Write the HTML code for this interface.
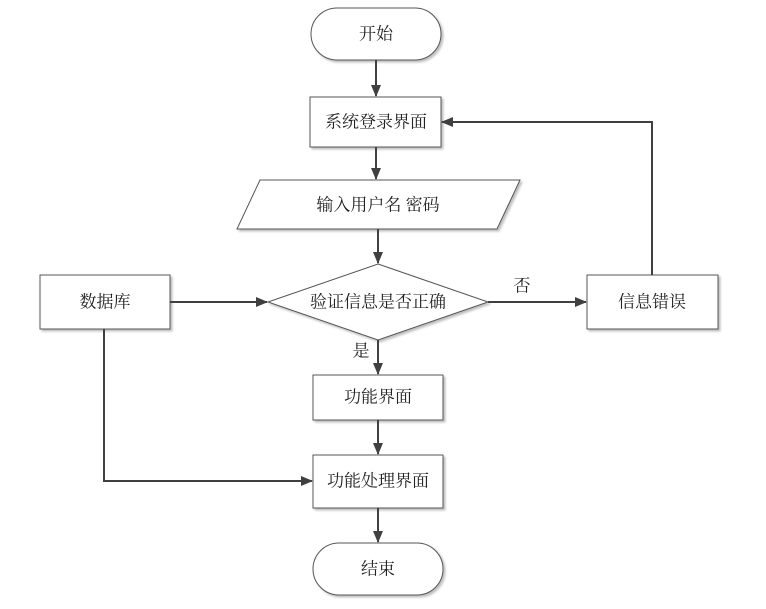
<!DOCTYPE html>
<html><head><meta charset="utf-8"><style>
body{margin:0;background:#fff;}
svg text{font-family:"Liberation Serif","Noto Serif CJK SC",serif;font-size:17px;fill:#222;text-anchor:middle;dominant-baseline:central;}
</style></head><body>
<svg width="766" height="604" viewBox="0 0 766 604" xmlns="http://www.w3.org/2000/svg">
<defs>
<marker id="a" markerWidth="12" markerHeight="10" refX="11" refY="5" orient="auto" markerUnits="userSpaceOnUse">
<path d="M0,0 L12,5 L0,10 Z" fill="#404040"/></marker>
<filter id="s" x="-10%" y="-10%" width="130%" height="130%"><feDropShadow dx="2" dy="2" stdDeviation="1" flood-color="#000" flood-opacity="0.25"/></filter>
</defs>
<g fill="#fff" stroke="#555" stroke-width="1" filter="url(#s)">
<rect x="311" y="8" width="130" height="52" rx="26"/>
<rect x="310" y="97" width="131" height="50"/>
<polygon points="260,180 520,180 497,229 237,229"/>
<polygon points="378,264 488,302 378,340 268,302"/>
<rect x="40" y="275" width="130" height="54"/>
<rect x="587" y="275" width="131" height="54"/>
<rect x="313" y="375" width="130" height="45"/>
<rect x="313" y="455" width="130" height="53"/>
<rect x="313" y="543" width="130" height="52" rx="26"/>
</g>
<g stroke="#404040" stroke-width="2" fill="none" marker-end="url(#a)">
<line x1="376" y1="60" x2="376" y2="96"/>
<line x1="376" y1="147" x2="376" y2="179"/>
<line x1="378" y1="229" x2="378" y2="263"/>
<line x1="170" y1="302" x2="267" y2="302"/>
<line x1="488" y1="302" x2="586" y2="302"/>
<line x1="378" y1="340" x2="378" y2="374"/>
<line x1="378" y1="420" x2="378" y2="454"/>
<line x1="378" y1="508" x2="378" y2="542"/>
<polyline points="104,329 104,481 312,481"/>
<polyline points="652,275 652,122 442,122"/>
</g>
<text x="376" y="34">开始</text>
<text x="376" y="122">系统登录界面</text>
<text x="378" y="205">输入用户名 密码</text>
<text x="378" y="302">验证信息是否正确</text>
<text x="105" y="302">数据库</text>
<text x="652" y="302">信息错误</text>
<text x="378" y="397">功能界面</text>
<text x="378" y="481">功能处理界面</text>
<text x="378" y="569">结束</text>
<text x="522" y="286">否</text>
<text x="361" y="351">是</text>
</svg>
</body></html>
